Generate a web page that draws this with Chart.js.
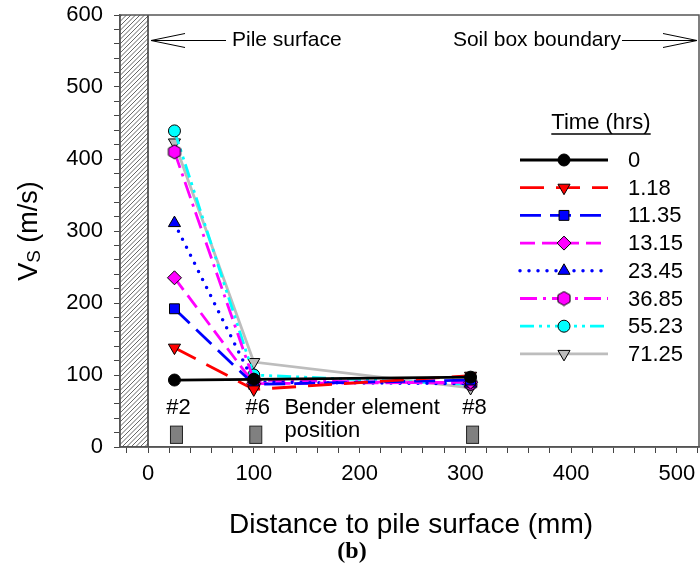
<!DOCTYPE html>
<html>
<head>
<meta charset="utf-8">
<script src="https://cdn.jsdelivr.net/npm/chart.js@4.4.0/dist/chart.umd.min.js"></script>
<style>
  html, body { margin: 0; padding: 0; background: #fff; }
</style>
</head>
<body>
<canvas id="vsChart" width="700" height="575"></canvas>
<script>
// distance of bender elements #2, #6, #8 from pile surface (mm)
var distances = [25, 100, 305];
var sensorNames = ['#2', '#6', '#8'];
var timeLabels = ['0', '1.18', '11.35', '13.15', '23.45', '36.85', '55.23', '71.25'];

// Vs (m/s) for each time
var vsT0 = [93, 94, 97];
var vsT118 = [138, 80, 99];
var vsT1135 = [192, 87, 93];
var vsT1315 = [235, 88, 90];
var vsT2345 = [311, 90, 88];
var vsT3685 = [410, 93, 88];
var vsT5523 = [439, 100, 87];
var vsT7125 = [423, 118, 82];

var xMajorTicks = [0, 100, 200, 300, 400, 500];
var yMajorTicks = [0, 100, 200, 300, 400, 500, 600];

var FONT = 'Liberation Sans, Arial, sans-serif';

// hexagon marker
function makeHexagon(color) {
    var c = document.createElement('canvas');
    c.width = 16; c.height = 16;
    var g = c.getContext('2d');
    g.beginPath();
    for (var i = 0; i < 6; i++) {
        var a = -Math.PI / 2 + i * Math.PI / 3;
        var px = 8 + 7 * Math.cos(a), py = 8 + 7 * Math.sin(a);
        if (i === 0) g.moveTo(px, py); else g.lineTo(px, py);
    }
    g.closePath();
    g.fillStyle = color;
    g.fill();
    g.lineWidth = 1;
    g.strokeStyle = '#000';
    g.stroke();
    return c;
}

function pts(vals) {
    var out = [];
    for (var i = 0; i < distances.length; i++) out.push({x: distances[i], y: vals[i]});
    return out;
}

function series(idx, vals, color, dash, style, rot, fill, cap) {
    return {
        label: timeLabels[idx],
        data: pts(vals),
        borderColor: color,
        borderWidth: idx === 4 ? 3.5 : 2.8,
        borderDash: dash,
        borderCapStyle: cap || 'butt',
        pointStyle: style,
        rotation: rot,
        pointRadius: style === 'circle' ? 6 : 7,
        pointBackgroundColor: fill,
        pointBorderColor: '#000',
        pointBorderWidth: 1,
        tension: 0,
        fill: false
    };
}

var datasets = [
    series(0, vsT0, '#000000', [], 'circle', 0, '#000000'),
    series(1, vsT118, '#ff0000', [24, 12], 'triangle', 180, '#ff0000'),
    series(2, vsT1135, '#0000ff', [21, 9], 'rect', 0, '#0000ff'),
    series(3, vsT1315, '#ff00ff', [15, 7], 'rectRot', 0, '#ff00ff'),
    series(4, vsT2345, '#0000ff', [0, 9], 'triangle', 0, '#0000ff', 'round'),
    series(5, vsT3685, '#ff00ff', [17, 6, 3, 6], makeHexagon('#ff00ff'), 0, '#ff00ff'),
    series(6, vsT5523, '#00ffff', [14, 5, 3, 5, 3, 5], 'circle', 0, '#00ffff'),
    series(7, vsT7125, '#bdbdbd', [], 'triangle', 180, '#bdbdbd')
];

var pilePlugin = {
    id: 'pile',
    beforeDatasetsDraw: function (chart) {
        var ctx = chart.ctx, a = chart.chartArea;
        var xs = chart.scales.x;
        var right = xs.getPixelForValue(0);
        ctx.save();
        ctx.beginPath();
        ctx.rect(a.left, a.top, right - a.left, a.bottom - a.top);
        ctx.clip();
        ctx.strokeStyle = '#222';
        ctx.lineWidth = 0.7;
        for (var k = a.top - 40; k < a.bottom + 40; k += 4.5) {
            ctx.beginPath();
            ctx.moveTo(a.left - 5, k + (right - a.left + 10));
            ctx.lineTo(right + 5, k);
            ctx.stroke();
        }
        ctx.restore();
        ctx.save();
        ctx.strokeStyle = '#333';
        ctx.lineWidth = 1.5;
        ctx.beginPath();
        ctx.moveTo(right, a.top);
        ctx.lineTo(right, a.bottom);
        ctx.stroke();

        // bender element markers
        var ys = chart.scales.y;
        ctx.font = '22px ' + FONT;
        ctx.fillStyle = '#000';
        ctx.textBaseline = 'middle';
        for (var i = 0; i < distances.length; i++) {
            var px = xs.getPixelForValue(distances[i]);
            ctx.fillStyle = '#808080';
            ctx.strokeStyle = '#222';
            ctx.lineWidth = 1;
            var top = ys.getPixelForValue(29), bot = ys.getPixelForValue(5);
            ctx.fillRect(px - 4, top, 12, bot - top);
            ctx.strokeRect(px - 4, top, 12, bot - top);
            ctx.fillStyle = '#000';
            ctx.textAlign = 'center';
            ctx.fillText(sensorNames[i], px + 4, ys.getPixelForValue(54));
        }
        ctx.textAlign = 'left';
        ctx.fillText('Bender element', xs.getPixelForValue(129), ys.getPixelForValue(54));
        ctx.fillText('position', xs.getPixelForValue(129), ys.getPixelForValue(22));
        ctx.restore();
    },
    afterDraw: function (chart) {
        var ctx = chart.ctx, a = chart.chartArea;
        var xs = chart.scales.x;
        ctx.save();
        // frame
        ctx.strokeStyle = '#555';
        ctx.lineWidth = 1.5;
        ctx.strokeRect(a.left, a.top, a.right - a.left, a.bottom - a.top);

        // top arrows
        ctx.strokeStyle = '#000';
        ctx.lineWidth = 1;
        var y0 = 40.5;
        var xp = xs.getPixelForValue(0) + 3;
        ctx.beginPath();
        ctx.moveTo(xp, y0); ctx.lineTo(226, y0);
        ctx.moveTo(xp + 34, y0 - 7); ctx.lineTo(xp, y0); ctx.lineTo(xp + 34, y0 + 7);
        ctx.moveTo(622, y0); ctx.lineTo(a.right - 2, y0);
        ctx.moveTo(a.right - 36, y0 - 7); ctx.lineTo(a.right - 2, y0); ctx.lineTo(a.right - 36, y0 + 7);
        ctx.stroke();
        ctx.fillStyle = '#000';
        ctx.font = '21px ' + FONT;
        ctx.textBaseline = 'middle';
        ctx.textAlign = 'left';
        ctx.fillText('Pile surface', 232, y0);
        ctx.textAlign = 'right';
        ctx.fillText('Soil box boundary', 621, y0);

        // legend
        var lx0 = 520, lx1 = 608, mx = 564, ty = 160, dy = 27.7;
        ctx.textAlign = 'center';
        ctx.font = '22px ' + FONT;
        ctx.fillText('Time (hrs)', 601, 123);
        var tw = ctx.measureText('Time (hrs)').width;
        ctx.beginPath();
        ctx.lineWidth = 1.3;
        ctx.moveTo(601 - tw / 2, 134); ctx.lineTo(601 + tw / 2, 134);
        ctx.stroke();
        for (var i = 0; i < chart.data.datasets.length; i++) {
            var ds = chart.data.datasets[i];
            var yy = ty + i * dy;
            ctx.save();
            ctx.strokeStyle = ds.borderColor;
            ctx.lineWidth = ds.borderWidth;
            ctx.lineCap = ds.borderCapStyle;
            ctx.setLineDash(ds.borderDash);
            ctx.beginPath();
            ctx.moveTo(lx0, yy); ctx.lineTo(lx1, yy);
            ctx.stroke();
            ctx.restore();
            ctx.save();
            ctx.fillStyle = ds.pointBackgroundColor;
            ctx.strokeStyle = '#000';
            ctx.lineWidth = 1;
            Chart.helpers.drawPoint(ctx, {pointStyle: ds.pointStyle, radius: ds.pointRadius, rotation: ds.rotation, borderWidth: 1}, mx, yy);
            ctx.restore();
            ctx.fillStyle = '#000';
            ctx.textAlign = 'left';
            ctx.fillText(ds.label, 628, yy + 1);
        }

        // axis titles
        ctx.font = '28px ' + FONT;
        ctx.textAlign = 'center';
        ctx.fillText('Distance to pile surface (mm)', 411, 525);
        ctx.font = '27px ' + FONT;
        ctx.save();
        ctx.translate(30, 231);
        ctx.rotate(-Math.PI / 2);
        var wV = ctx.measureText('V').width;
        ctx.font = '19px ' + FONT;
        var wS = ctx.measureText('S').width;
        ctx.font = '27px ' + FONT;
        var wR = ctx.measureText(' (m/s)').width;
        var start = -(wV + wS + wR) / 2;
        ctx.textAlign = 'left';
        ctx.fillText('V', start, 0);
        ctx.font = '19px ' + FONT;
        ctx.fillText('S', start + wV, 5);
        ctx.font = '27px ' + FONT;
        ctx.fillText(' (m/s)', start + wV + wS, 0);
        ctx.restore();

        ctx.font = 'bold 24px "Liberation Serif", "Times New Roman", serif';
        ctx.textAlign = 'center';
        ctx.fillText('(b)', 352, 552);
        ctx.restore();
    }
};

function noPad(s) {
    s.paddingTop = 0; s.paddingBottom = 0; s.paddingLeft = 0; s.paddingRight = 0;
}

var chart = new Chart(document.getElementById('vsChart').getContext('2d'), {
    type: 'line',
    data: { datasets: datasets },
    options: {
        responsive: false,
        animation: false,
        devicePixelRatio: 1,
        layout: { autoPadding: false, padding: { top: 15, right: 1, left: 0, bottom: 0 } },
        plugins: {
            legend: { display: false },
            tooltip: { enabled: false }
        },
        scales: {
            x: {
                type: 'linear',
                min: -26.5,
                max: 521,
                afterFit: function (s) { s.height = 128; noPad(s); },
                ticks: {
                    stepSize: 20,
                    includeBounds: false,
                    autoSkip: false,
                    maxRotation: 0,
                    padding: 8,
                    color: '#000',
                    font: { family: FONT, size: 22 },
                    callback: function (v) { return xMajorTicks.indexOf(v) >= 0 ? String(v) : ''; }
                },
                grid: { drawOnChartArea: false, tickLength: 6, color: '#444' },
                border: { color: '#555', width: 1.5 }
            },
            y: {
                type: 'linear',
                min: 0,
                max: 600,
                afterFit: function (s) { s.width = 120; noPad(s); },
                ticks: {
                    stepSize: 20,
                    autoSkip: false,
                    padding: 11,
                    color: '#000',
                    font: { family: FONT, size: 22 },
                    callback: function (v) { return yMajorTicks.indexOf(v) >= 0 ? String(v) : ''; }
                },
                grid: { drawOnChartArea: false, tickLength: 6, color: '#444' },
                border: { color: '#555', width: 1.5 }
            }
        }
    },
    plugins: [pilePlugin]
});
</script>
</body>
</html>
